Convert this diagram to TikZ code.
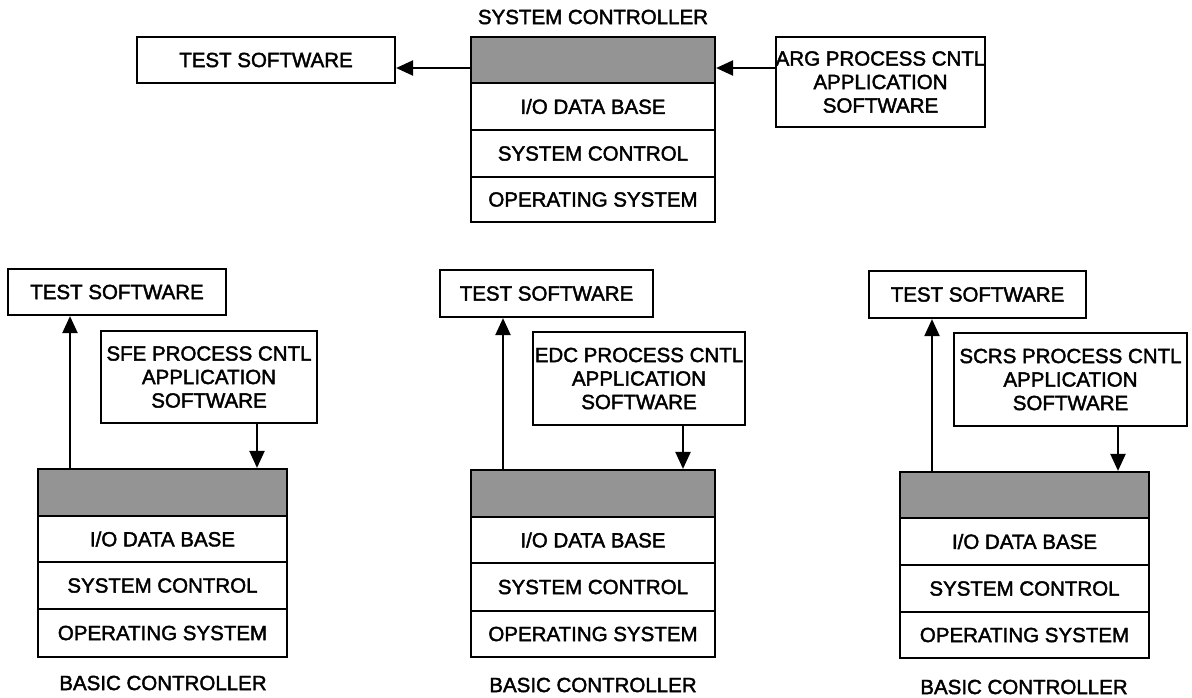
\documentclass[tikz,border=0pt]{standalone}
\usepackage{fontspec}
\setmainfont[FakeBold=2]{Liberation Sans}
\usetikzlibrary{arrows.meta}
\begin{document}
\begin{tikzpicture}[x=1pt,y=-1pt,
  bx/.style={draw, line width=2.2pt, inner sep=0pt, align=center,
    font=\fontsize{20.5}{23.5}\selectfont},
  shadebox/.style={bx, fill=black!42},
  lbl/.style={inner sep=0pt, font=\fontsize{20.5}{24}\selectfont},
  arr/.style={line width=2.2pt, -{Triangle[length=17pt,width=15pt]}}]
\useasboundingbox (0,0) rectangle (1192,697);

% ---------- system controller ----------
\node[lbl] (stitle) at (593,17) {SYSTEM CONTROLLER};
\node[shadebox, minimum width=244pt, minimum height=46pt] (sshade) at (593,60) {};
\node[bx, minimum width=244pt, minimum height=47pt] (sio) at (593,106.5) {I/O DATA BASE};
\node[bx, minimum width=244pt, minimum height=47pt] (ssc) at (593,153.5) {SYSTEM CONTROL};
\node[bx, minimum width=244pt, minimum height=45pt] (sos) at (593,199.5) {OPERATING SYSTEM};
\node[bx, minimum width=258pt, minimum height=46pt] (ttop) at (266,60) {TEST SOFTWARE};
\node[bx, minimum width=175pt, minimum height=90pt] (arg) at (880.5,82) {ARG PROCESS CNTL\\APPLICATION\\SOFTWARE};
\draw[arr] ([yshift=-8pt]sshade.west) -- ([yshift=-8pt]ttop.east);
\draw[arr] ([yshift=14pt]arg.west) -- ([yshift=-8pt]sshade.east);

% ---------- basic controller 1 ----------
\node[bx, minimum width=218pt, minimum height=46pt] (t1) at (117,292) {TEST SOFTWARE};
\node[bx, minimum width=216pt, minimum height=92pt] (sfe) at (209,377) {SFE PROCESS CNTL\\APPLICATION\\SOFTWARE};
\node[shadebox, minimum width=249pt, minimum height=47pt] (sh1) at (162.5,492.5) {};
\node[bx, minimum width=249pt, minimum height=46pt] (io1) at (162.5,539) {I/O DATA BASE};
\node[bx, minimum width=249pt, minimum height=47pt] (sc1) at (162.5,585.5) {SYSTEM CONTROL};
\node[bx, minimum width=249pt, minimum height=48pt] (os1) at (162.5,633) {OPERATING SYSTEM};
\node[lbl] (b1) at (163,683) {BASIC CONTROLLER};
\coordinate (u1) at (70,0);
\coordinate (d1) at (257,0);
\draw[arr] (sh1.north -| u1) -- (t1.south -| u1);
\draw[arr] (sfe.south -| d1) -- (sh1.north -| d1);

% ---------- basic controller 2 ----------
\node[bx, minimum width=213pt, minimum height=47pt] (t2) at (546.5,293.5) {TEST SOFTWARE};
\node[bx, minimum width=212pt, minimum height=93pt] (edc) at (639,378.5) {EDC PROCESS CNTL\\APPLICATION\\SOFTWARE};
\node[shadebox, minimum width=244pt, minimum height=47pt] (sh2) at (593,493.5) {};
\node[bx, minimum width=244pt, minimum height=46pt] (io2) at (593,540) {I/O DATA BASE};
\node[bx, minimum width=244pt, minimum height=48pt] (sc2) at (593,587) {SYSTEM CONTROL};
\node[bx, minimum width=244pt, minimum height=46pt] (os2) at (593,634) {OPERATING SYSTEM};
\node[lbl] (b2) at (593,685) {BASIC CONTROLLER};
\coordinate (u2) at (503,0);
\coordinate (d2) at (683,0);
\draw[arr] (sh2.north -| u2) -- (t2.south -| u2);
\draw[arr] (edc.south -| d2) -- (sh2.north -| d2);

% ---------- basic controller 3 ----------
\node[bx, minimum width=217pt, minimum height=47pt] (t3) at (977.5,294.5) {TEST SOFTWARE};
\node[bx, minimum width=233pt, minimum height=93pt] (scrs) at (1070.5,379.5) {SCRS PROCESS CNTL\\APPLICATION\\SOFTWARE};
\node[shadebox, minimum width=249pt, minimum height=46pt] (sh3) at (1024.5,495) {};
\node[bx, minimum width=249pt, minimum height=47pt] (io3) at (1024.5,541.5) {I/O DATA BASE};
\node[bx, minimum width=249pt, minimum height=47pt] (sc3) at (1024.5,588.5) {SYSTEM CONTROL};
\node[bx, minimum width=249pt, minimum height=46pt] (os3) at (1024.5,635) {OPERATING SYSTEM};
\node[lbl] (b3) at (1024,687) {BASIC CONTROLLER};
\coordinate (u3) at (932,0);
\coordinate (d3) at (1118,0);
\draw[arr] (sh3.north -| u3) -- (t3.south -| u3);
\draw[arr] (scrs.south -| d3) -- (sh3.north -| d3);
\end{tikzpicture}
\end{document}
